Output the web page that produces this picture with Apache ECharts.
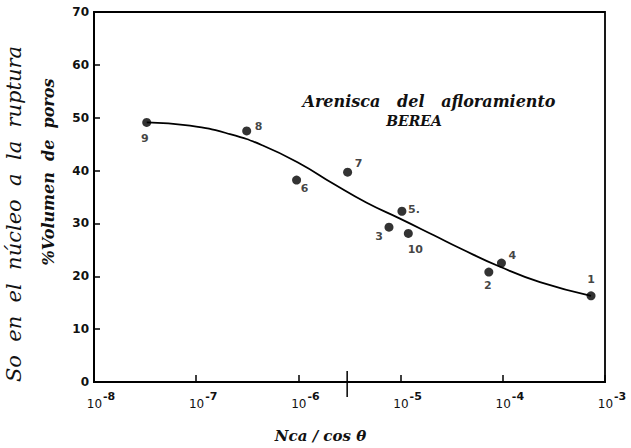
<!DOCTYPE html>
<html>
<head>
<meta charset="utf-8">
<script src="https://cdn.jsdelivr.net/npm/echarts@6/dist/echarts.min.js"></script>
<style>
  html, body { margin: 0; padding: 0; background: #fff; }
  #chart { width: 631px; height: 448px; }
</style>
</head>
<body>
<div id="chart"></div>
<script>
// puntos medidos (Nca/cos θ, So %)
var pointIds = ['1', '2', '3', '4', '5.', '6', '7', '8', '9', '10'];
var pointX = [7.3e-4, 7.3e-5, 7.7e-6, 9.7e-5, 1.03e-5, 9.6e-7, 3.03e-6, 3.12e-7, 3.28e-8, 1.19e-5];
var pointY = [16.3, 20.8, 29.3, 22.5, 32.3, 38.2, 39.7, 47.5, 49.1, 28.1];
// desplazamiento de cada etiqueta respecto a su punto
var labelPos = [[0, -16], [-1, 13], [-10, 9], [11, -8], [12, -2], [8, 8], [11, -9], [12, -4], [-2, 16], [7, 16]];

// curva ajustada
var curveX = [3.28e-8, 8.69e-8, 2.14e-7, 4.54e-7, 1.04e-6, 2.2e-6, 4.66e-6, 9.86e-6, 2.09e-5, 3.81e-5, 9.4e-5, 2.31e-4, 7.3e-4];
var curveY = [49.1, 48.5, 46.9, 44.7, 41.3, 37.5, 33.9, 30.9, 27.8, 25.3, 21.8, 18.9, 16.3];

var markX = 3e-6;

var chart = echarts.init(document.getElementById('chart'), null, { renderer: 'svg' });

var pts = pointX.map(function(x, i) {
  return {
    value: [x, pointY[i]],
    label: { show: true, formatter: pointIds[i], offset: labelPos[i] }
  };
});

var italic = { fontFamily: 'DejaVu Serif', fontStyle: 'italic', fontWeight: 'bold', color: '#111' };

chart.setOption({
  animation: false,
  backgroundColor: '#fff',
  grid: { left: 94, right: 26, top: 12, bottom: 63, show: true, borderColor: '#000', borderWidth: 1.8 },
  title: [
    { text: 'Arenisca   del   afloramiento', left: 424, top: 88, textAlign: 'center',
      textStyle: Object.assign({ fontSize: 16 }, italic) },
    { text: 'BEREA', left: 409, top: 109, textAlign: 'center',
      textStyle: Object.assign({ fontSize: 14 }, italic) }
  ],
  graphic: [
    { type: 'text', x: 14, y: 214, rotation: Math.PI / 2,
      style: { text: 'So  en  el  núcleo  a  la  ruptura', fontFamily: 'DejaVu Serif', fontStyle: 'italic', fontSize: 21, fill: '#111', align: 'center', verticalAlign: 'middle' } },
    { type: 'text', x: 48, y: 172, rotation: Math.PI / 2,
      style: { text: '%Volumen  de  poros', fontFamily: 'DejaVu Serif', fontStyle: 'italic', fontWeight: 'bold', fontSize: 16, fill: '#111', align: 'center', verticalAlign: 'middle' } }
  ],
  xAxis: {
    type: 'log', logBase: 10, min: 1e-8, max: 1e-3,
    name: 'Nca / cos θ', nameLocation: 'middle', nameGap: 46,
    nameTextStyle: Object.assign({ fontSize: 15, padding: [0, 58, 0, 0] }, italic),
    axisLine: { lineStyle: { color: '#000', width: 2 } },
    axisTick: { inside: true, length: 7, lineStyle: { color: '#000', width: 1.5 } },
    minorTick: { show: false },
    splitLine: { show: false },
    axisLabel: {
      margin: 9,
      formatter: function(v) { return '{p|}{b|10}{s|' + Math.round(Math.log10(v)) + '}'; },
      rich: {
        p: { width: 14 },
        b: { fontFamily: 'DejaVu Sans', fontSize: 12, color: '#111', verticalAlign: 'bottom' },
        s: { fontFamily: 'DejaVu Sans', fontSize: 11, fontWeight: 'bold', color: '#111', verticalAlign: 'top', padding: [0, 0, 8, 1] }
      }
    }
  },
  yAxis: {
    type: 'value', min: 0, max: 70, interval: 10,
    axisLine: { show: true, lineStyle: { color: '#000', width: 2 } },
    axisTick: { show: true, inside: true, length: 6, lineStyle: { color: '#000', width: 1.5 } },
    splitLine: { show: false },
    axisLabel: { margin: 5, fontFamily: 'DejaVu Sans', fontWeight: 'bold', fontSize: 12, color: '#111' }
  },
  series: [
    {
      type: 'line', smooth: 0.5, showSymbol: false,
      data: curveX.map(function(x, i) { return [x, curveY[i]]; }),
      lineStyle: { color: '#000', width: 1.8 }, z: 2
    },
    {
      type: 'scatter', symbolSize: 9,
      data: pts,
      itemStyle: { color: '#000' },
      label: { color: '#111', fontFamily: 'DejaVu Sans', fontWeight: 'bold', fontSize: 11, position: 'inside' },
      z: 3
    },
    {
      type: 'custom', clip: false, silent: true,
      data: [[markX, 0]],
      renderItem: function(params, api) {
        var p = api.coord([api.value(0), api.value(1)]);
        return { type: 'line', shape: { x1: p[0], y1: p[1] - 11, x2: p[0], y2: p[1] + 15 }, style: { stroke: '#000', lineWidth: 1.5 } };
      }
    }
  ]
});
</script>
</body>
</html>
